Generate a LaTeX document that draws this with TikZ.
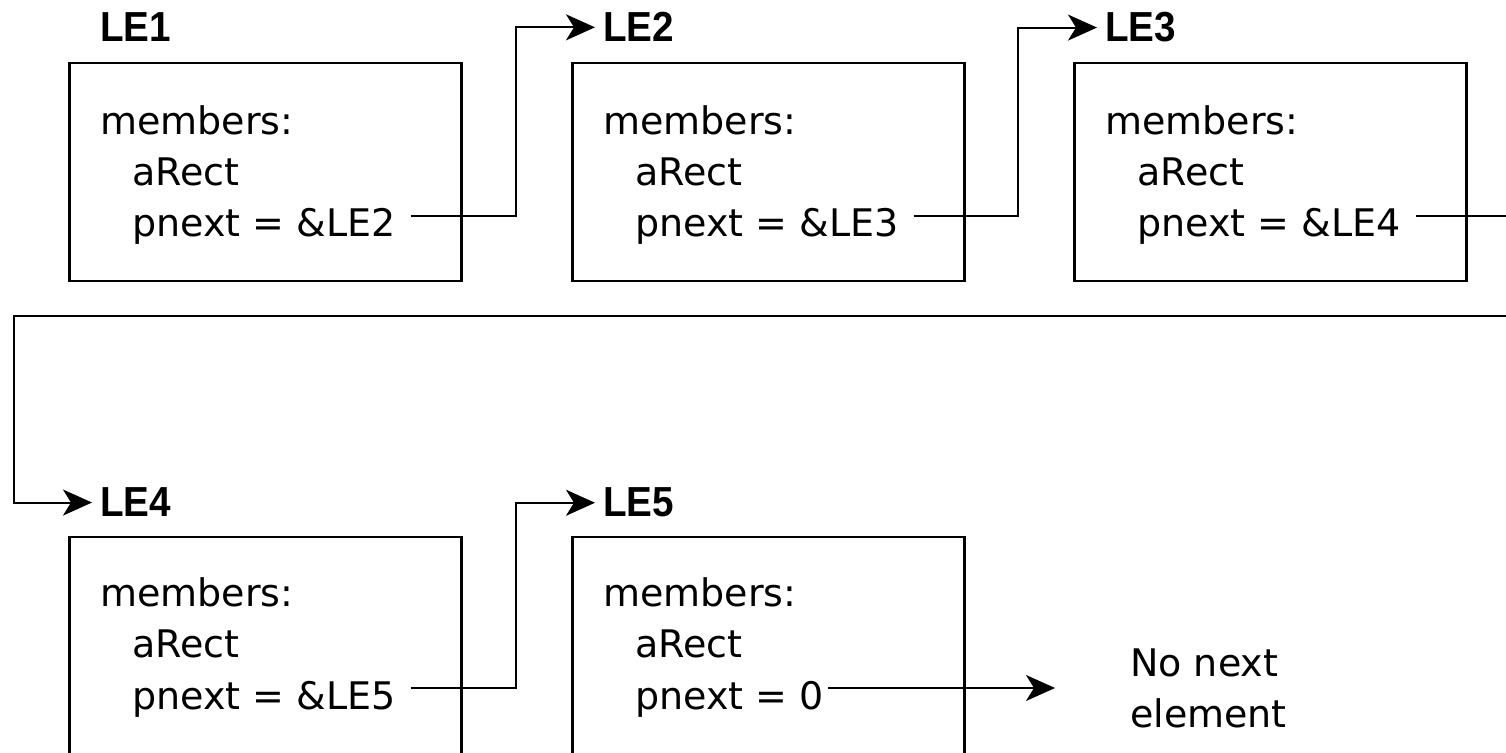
\documentclass[tikz,border=0pt]{standalone}
\usepackage{fontspec}
\usetikzlibrary{arrows.meta,calc}
\newfontfamily\bodyfam{DejaVu Sans}
\newfontfamily\lblfam[FakeStretch=0.92]{Liberation Sans Bold}
\newcommand\bodyfnt{\bodyfam\fontsize{38pt}{51pt}\selectfont}
\newcommand\lblfnt{\lblfam\fontsize{42pt}{48pt}\selectfont}
\tikzset{
  elem/.style={draw, line width=2.5pt, minimum width=392pt, minimum height=218pt, anchor=north west, inner sep=0pt},
  lbl/.style={font=\lblfnt, anchor=base west, inner sep=0pt},
  txt/.style={font=\bodyfnt, anchor=base west, inner sep=0pt},
  conn/.style={line width=2pt},
  arr/.style={conn, -{Stealth[length=29pt,width=26pt,inset=8pt]}, shorten >=8pt},
}
\begin{document}
\begin{tikzpicture}[x=1pt,y=1pt]
\useasboundingbox (0,0) rectangle (1506,752);
\clip (0,0) rectangle (1506,752);
\fill[white] (0,0) rectangle (1506,752);
% row 1
\node[elem] (E1) at (68,690) {};
\node[elem] (E2) at (571,690) {};
\node[elem] (E3) at (1073,690) {};
\node[lbl] (L1) at (100,710) {LE1};
\node[lbl] (L2) at (603,710) {LE2};
\node[lbl] (L3) at (1105,710) {LE3};
\node[txt] (m1) at (100,617) {members:};
\node[txt] (a1) at (132,566) {aRect};
\node[txt] (p1) at (132,515) {pnext = \&LE2};
\node[txt] (m2) at (603,617) {members:};
\node[txt] (a2) at (635,566) {aRect};
\node[txt] (p2) at (635,515) {pnext = \&LE3};
\node[txt] (m3) at (1105,617) {members:};
\node[txt] (a3) at (1137,566) {aRect};
\node[txt] (p3) at (1137,515) {pnext = \&LE4};
% row 2
\node[elem] (E4) at (68,216) {};
\node[elem] (E5) at (571,216) {};
\node[lbl] (L4) at (100,235) {LE4};
\node[lbl] (L5) at (603,235) {LE5};
\node[txt] (m4) at (100,145) {members:};
\node[txt] (a4) at (132,94) {aRect};
\node[txt] (p4) at (132,43) {pnext = \&LE5};
\node[txt] (m5) at (603,145) {members:};
\node[txt] (a5) at (635,94) {aRect};
\node[txt] (p5) at (635,43) {pnext = 0};
\node[txt] (n1) at (1130,76) {No next};
\node[txt] (n2) at (1130,25) {element};
% connector starts and bends
\coordinate (s1) at ($(p1.base east)+(15,21)$);
\coordinate (s2) at ($(p2.base east)+(15,21)$);
\coordinate (s3) at ($(p3.base east)+(15,21)$);
\coordinate (s4) at ($(p4.base east)+(15,21)$);
\coordinate (s5) at ($(p5.base east)+(4,21)$);
\coordinate (b1) at (516,0);
\coordinate (b2) at (1018,0);
\coordinate (b4) at (516,0);
\coordinate (r1) at (1530,436);
\coordinate (l1) at (14,436);
% connectors
\draw[arr] (s1) -| (L2.west -| b1) -- (L2.west);
\draw[arr] (s2) -| (L3.west -| b2) -- (L3.west);
\draw[arr] (s3) -| (r1) -- (l1) |- (L4.west);
\draw[arr] (s4) -| (L5.west -| b4) -- (L5.west);
\draw[arr, shorten >=75pt] (s5) -- (s5 -| n1.west);
\end{tikzpicture}
\end{document}
